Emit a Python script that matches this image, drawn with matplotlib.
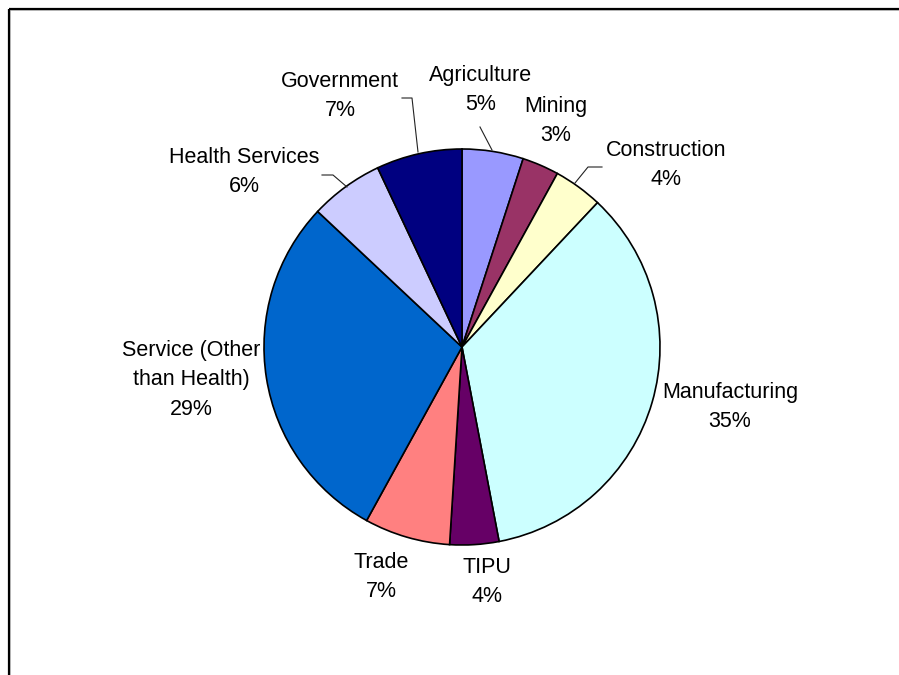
import matplotlib
matplotlib.use("Agg")
import matplotlib.pyplot as plt
from matplotlib.patches import Rectangle

categories = ["Agriculture", "Mining", "Construction", "Manufacturing", "TIPU",
              "Trade", "Service (Other\nthan Health)", "Health Services", "Government"]
values = [5, 3, 4, 35, 4, 7, 29, 6, 7]
colors = ["#9999FF", "#993366", "#FFFFCC", "#CCFFFF", "#660066",
          "#FF8080", "#0066CC", "#CCCCFF", "#000080"]

W, H = 899, 675
fig = plt.figure(figsize=(W / 100, H / 100), dpi=100)
ax = fig.add_axes([0, 0, 1, 1])

def Y(yp):
    return H - yp

ax.pie(values, colors=colors, startangle=90, counterclock=False,
       center=(462, Y(347)), radius=198, normalize=True,
       wedgeprops=dict(edgecolor="black", linewidth=1.2))
ax.set_xlim(0, W)
ax.set_ylim(0, H)
ax.set_aspect("equal")
ax.axis("off")

# label layout (pixel coordinates of text centres)
label_pos = [(481, 90), (556, 121), (666, 165), (730, 407), (487, 582),
             (381, 577), (191, 380), (244, 172), (340, 96)]
font = dict(family=["Liberation Sans", "DejaVu Sans"], size=15.5, color="black")
for name, v, (xp, yp) in zip(categories, values, label_pos):
    ax.text(xp, Y(yp), f"{name}\n{v}%", ha="center", va="center",
            linespacing=1.55, **font)

# leader lines
leaders = [
    [(402, 98), (412, 98), (418, 152)],
    [(480, 127), (492, 150)],
    [(602, 167), (588, 167), (575, 183)],
    [(322, 175), (333, 175), (347, 187)],
]
for pts in leaders:
    ax.plot([p[0] for p in pts], [Y(p[1]) for p in pts], color="#222222", lw=0.8)

# chart frame (extends beyond right and bottom edges)
ax.add_patch(Rectangle((10, Y(10)), W, -H, fill=False, edgecolor="#C0C0C0",
                       lw=1.2, clip_on=True))
ax.add_patch(Rectangle((9, Y(9)), W, -H, fill=False, edgecolor="black",
                       lw=1.6, clip_on=True))

fig.savefig("out.png", dpi=100, facecolor="white")
